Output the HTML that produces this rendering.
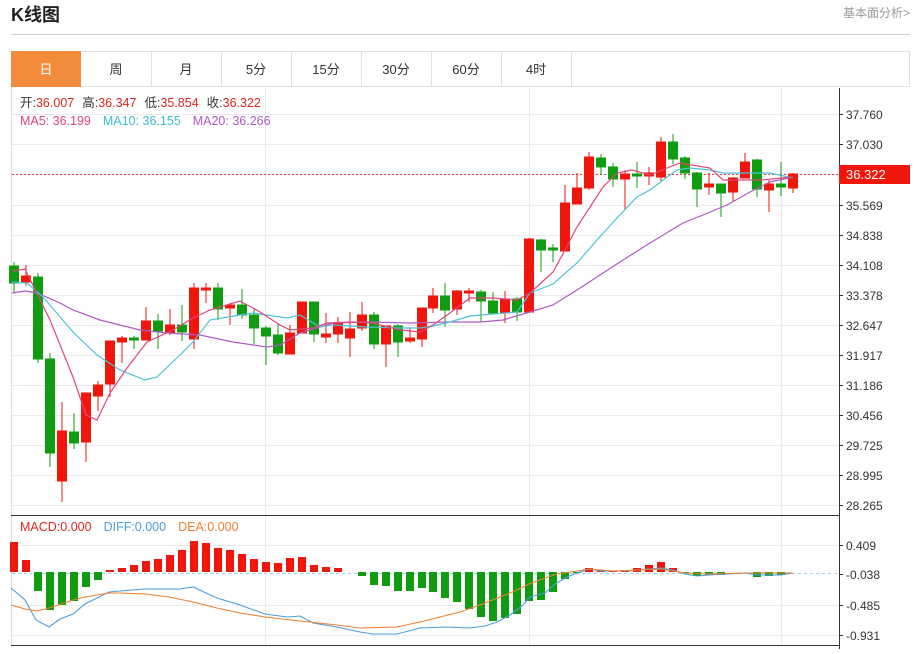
<!DOCTYPE html>
<html><head><meta charset="utf-8"><style>
body{margin:0;background:#fff;width:915px;height:649px;overflow:hidden;font-family:"Liberation Sans","Noto Sans CJK SC",sans-serif}
</style></head><body>
<svg width="915" height="649" xmlns="http://www.w3.org/2000/svg" font-family="Liberation Sans, Noto Sans CJK SC, sans-serif">
<text x="11" y="21" font-size="18" font-weight="bold" fill="#222">K线图</text>
<text x="910" y="17" font-size="12" fill="#999" text-anchor="end">基本面分析&gt;</text>
<line x1="11" y1="34.5" x2="910" y2="34.5" stroke="#d0d0d0"/>
<!-- tabs -->
<rect x="11.5" y="51.5" width="898" height="35" fill="#fff" stroke="#e0e0e0"/>
<rect x="11" y="51" width="70" height="36" fill="#f28b3c"/>
<g stroke="#e0e0e0"><line x1="151.5" y1="52" x2="151.5" y2="86"/><line x1="221.5" y1="52" x2="221.5" y2="86"/><line x1="291.5" y1="52" x2="291.5" y2="86"/><line x1="361.5" y1="52" x2="361.5" y2="86"/><line x1="431.5" y1="52" x2="431.5" y2="86"/><line x1="501.5" y1="52" x2="501.5" y2="86"/><line x1="571.5" y1="52" x2="571.5" y2="86"/></g>
<g font-size="13" text-anchor="middle" fill="#333">
<text x="46" y="74" fill="#fff">日</text><text x="116" y="74">周</text><text x="186" y="74">月</text><text x="256" y="74">5分</text><text x="326" y="74">15分</text><text x="396" y="74">30分</text><text x="466" y="74">60分</text><text x="536" y="74">4时</text></g>
<!-- chart frame -->
<line x1="11.5" y1="87" x2="11.5" y2="646" stroke="#ddd"/>
<g stroke="#ebebeb">
<line x1="12" y1="114.5" x2="839" y2="114.5"/><line x1="12" y1="144.5" x2="839" y2="144.5"/><line x1="12" y1="174.5" x2="839" y2="174.5"/><line x1="12" y1="205.5" x2="839" y2="205.5"/><line x1="12" y1="235.5" x2="839" y2="235.5"/><line x1="12" y1="265.5" x2="839" y2="265.5"/><line x1="12" y1="295.5" x2="839" y2="295.5"/><line x1="12" y1="325.5" x2="839" y2="325.5"/><line x1="12" y1="355.5" x2="839" y2="355.5"/><line x1="12" y1="385.5" x2="839" y2="385.5"/><line x1="12" y1="415.5" x2="839" y2="415.5"/><line x1="12" y1="445.5" x2="839" y2="445.5"/><line x1="12" y1="475.5" x2="839" y2="475.5"/><line x1="12" y1="505.5" x2="839" y2="505.5"/>
<line x1="12" y1="545.5" x2="839" y2="545.5"/><line x1="12" y1="605.5" x2="839" y2="605.5"/><line x1="12" y1="635.5" x2="839" y2="635.5"/>
<line x1="265.5" y1="88" x2="265.5" y2="645"/><line x1="529.5" y1="88" x2="529.5" y2="645"/><line x1="781.5" y1="88" x2="781.5" y2="645"/>
</g>
<line x1="839.5" y1="88" x2="839.5" y2="649" stroke="#333"/>
<line x1="11" y1="515.5" x2="839" y2="515.5" stroke="#333"/>
<line x1="11" y1="645.5" x2="839" y2="645.5" stroke="#333"/>
<g stroke="#333"><line x1="839" y1="114.5" x2="843" y2="114.5"/><line x1="839" y1="144.5" x2="843" y2="144.5"/><line x1="839" y1="205.5" x2="843" y2="205.5"/><line x1="839" y1="235.5" x2="843" y2="235.5"/><line x1="839" y1="265.5" x2="843" y2="265.5"/><line x1="839" y1="295.5" x2="843" y2="295.5"/><line x1="839" y1="325.5" x2="843" y2="325.5"/><line x1="839" y1="355.5" x2="843" y2="355.5"/><line x1="839" y1="385.5" x2="843" y2="385.5"/><line x1="839" y1="415.5" x2="843" y2="415.5"/><line x1="839" y1="445.5" x2="843" y2="445.5"/><line x1="839" y1="475.5" x2="843" y2="475.5"/><line x1="839" y1="505.5" x2="843" y2="505.5"/><line x1="839" y1="545.5" x2="843" y2="545.5"/><line x1="839" y1="574.5" x2="843" y2="574.5"/><line x1="839" y1="605.5" x2="843" y2="605.5"/><line x1="839" y1="635.5" x2="843" y2="635.5"/></g>
<g font-size="12" fill="#333">
<text x="846" y="119">37.760</text><text x="846" y="149">37.030</text><text x="846" y="210">35.569</text><text x="846" y="240">34.838</text><text x="846" y="270">34.108</text><text x="846" y="300">33.378</text><text x="846" y="330">32.647</text><text x="846" y="360">31.917</text><text x="846" y="390">31.186</text><text x="846" y="420">30.456</text><text x="846" y="450">29.725</text><text x="846" y="480">28.995</text><text x="846" y="510">28.265</text>
<text x="846" y="550">0.409</text><text x="846" y="579">-0.038</text><text x="846" y="610">-0.485</text><text x="846" y="640">-0.931</text></g>
<!-- price line -->
<line x1="12" y1="174.5" x2="839" y2="174.5" stroke="#e84040" stroke-dasharray="2,2"/>
<rect x="839" y="165" width="71" height="19" fill="#f0160c"/>
<text x="846" y="179" font-size="13" fill="#fff">36.322</text>
<!-- info -->
<g font-size="12.5">
<text x="20" y="107"><tspan fill="#333">开:</tspan><tspan fill="#e0271f">36.007</tspan><tspan fill="#333" dx="8">高:</tspan><tspan fill="#e0271f">36.347</tspan><tspan fill="#333" dx="8">低:</tspan><tspan fill="#e0271f">35.854</tspan><tspan fill="#333" dx="8">收:</tspan><tspan fill="#e0271f">36.322</tspan></text>
<text x="20" y="125"><tspan fill="#e0457b">MA5: 36.199</tspan><tspan fill="#3cbfd0" dx="12">MA10: 36.155</tspan><tspan fill="#b059c4" dx="12">MA20: 36.266</tspan></text>
<text x="20" y="531"><tspan fill="#e0271f">MACD:0.000</tspan><tspan fill="#4a9de0" dx="12">DIFF:0.000</tspan><tspan fill="#f08030" dx="12">DEA:0.000</tspan></text>
</g>
<!-- candles -->
<g stroke-width="1">
<g stroke="#109c10" fill="#109c10"><line x1="14" y1="262" x2="14" y2="292"/><rect x="9.5" y="266" width="9" height="17"/></g>
<g stroke="#f0160c" fill="#f0160c"><line x1="26" y1="265" x2="26" y2="286"/><rect x="21.5" y="276" width="9" height="6"/></g>
<g stroke="#109c10" fill="#109c10"><line x1="38" y1="273" x2="38" y2="363"/><rect x="33.5" y="277" width="9" height="82"/></g>
<g stroke="#109c10" fill="#109c10"><line x1="50" y1="353" x2="50" y2="467"/><rect x="45.5" y="359" width="9" height="94"/></g>
<g stroke="#f0160c" fill="#f0160c"><line x1="62" y1="402" x2="62" y2="502"/><rect x="57.5" y="431" width="9" height="50"/></g>
<g stroke="#109c10" fill="#109c10"><line x1="74" y1="413" x2="74" y2="449"/><rect x="69.5" y="432" width="9" height="11"/></g>
<g stroke="#f0160c" fill="#f0160c"><line x1="86" y1="393" x2="86" y2="462"/><rect x="81.5" y="393" width="9" height="49"/></g>
<g stroke="#f0160c" fill="#f0160c"><line x1="98" y1="381" x2="98" y2="411"/><rect x="93.5" y="385" width="9" height="11"/></g>
<g stroke="#f0160c" fill="#f0160c"><line x1="110" y1="341" x2="110" y2="397"/><rect x="105.5" y="341" width="9" height="43"/></g>
<g stroke="#f0160c" fill="#f0160c"><line x1="122" y1="336" x2="122" y2="363"/><rect x="117.5" y="338" width="9" height="4"/></g>
<g stroke="#109c10" fill="#109c10"><line x1="134" y1="336" x2="134" y2="349"/><rect x="129.5" y="338" width="9" height="2"/></g>
<g stroke="#f0160c" fill="#f0160c"><line x1="146" y1="307" x2="146" y2="340"/><rect x="141.5" y="321" width="9" height="19"/></g>
<g stroke="#109c10" fill="#109c10"><line x1="158" y1="314" x2="158" y2="349"/><rect x="153.5" y="321" width="9" height="10"/></g>
<g stroke="#f0160c" fill="#f0160c"><line x1="170" y1="309" x2="170" y2="335"/><rect x="165.5" y="325" width="9" height="8"/></g>
<g stroke="#109c10" fill="#109c10"><line x1="182" y1="305" x2="182" y2="341"/><rect x="177.5" y="325" width="9" height="7"/></g>
<g stroke="#f0160c" fill="#f0160c"><line x1="194" y1="283" x2="194" y2="349"/><rect x="189.5" y="288" width="9" height="51"/></g>
<g stroke="#f0160c" fill="#f0160c"><line x1="206" y1="283" x2="206" y2="303"/><rect x="201.5" y="288" width="9" height="2"/></g>
<g stroke="#109c10" fill="#109c10"><line x1="218" y1="283" x2="218" y2="320"/><rect x="213.5" y="288" width="9" height="21"/></g>
<g stroke="#f0160c" fill="#f0160c"><line x1="230" y1="303" x2="230" y2="325"/><rect x="225.5" y="305" width="9" height="3"/></g>
<g stroke="#109c10" fill="#109c10"><line x1="242" y1="289" x2="242" y2="319"/><rect x="237.5" y="305" width="9" height="10"/></g>
<g stroke="#109c10" fill="#109c10"><line x1="254" y1="308" x2="254" y2="344"/><rect x="249.5" y="315" width="9" height="13"/></g>
<g stroke="#109c10" fill="#109c10"><line x1="266" y1="326" x2="266" y2="365"/><rect x="261.5" y="328" width="9" height="8"/></g>
<g stroke="#109c10" fill="#109c10"><line x1="278" y1="323" x2="278" y2="355"/><rect x="273.5" y="335" width="9" height="18"/></g>
<g stroke="#f0160c" fill="#f0160c"><line x1="290" y1="325" x2="290" y2="354"/><rect x="285.5" y="333" width="9" height="21"/></g>
<g stroke="#f0160c" fill="#f0160c"><line x1="302" y1="302" x2="302" y2="333"/><rect x="297.5" y="302" width="9" height="31"/></g>
<g stroke="#109c10" fill="#109c10"><line x1="314" y1="302" x2="314" y2="342"/><rect x="309.5" y="302" width="9" height="32"/></g>
<g stroke="#f0160c" fill="#f0160c"><line x1="326" y1="313" x2="326" y2="343"/><rect x="321.5" y="334" width="9" height="3"/></g>
<g stroke="#f0160c" fill="#f0160c"><line x1="338" y1="317" x2="338" y2="343"/><rect x="333.5" y="323" width="9" height="11"/></g>
<g stroke="#f0160c" fill="#f0160c"><line x1="350" y1="312" x2="350" y2="357"/><rect x="345.5" y="329" width="9" height="9"/></g>
<g stroke="#f0160c" fill="#f0160c"><line x1="362" y1="302" x2="362" y2="331"/><rect x="357.5" y="315" width="9" height="13"/></g>
<g stroke="#109c10" fill="#109c10"><line x1="374" y1="312" x2="374" y2="349"/><rect x="369.5" y="315" width="9" height="29"/></g>
<g stroke="#f0160c" fill="#f0160c"><line x1="386" y1="326" x2="386" y2="367"/><rect x="381.5" y="326" width="9" height="18"/></g>
<g stroke="#109c10" fill="#109c10"><line x1="398" y1="324" x2="398" y2="357"/><rect x="393.5" y="326" width="9" height="16"/></g>
<g stroke="#f0160c" fill="#f0160c"><line x1="410" y1="327" x2="410" y2="343"/><rect x="405.5" y="338" width="9" height="3"/></g>
<g stroke="#f0160c" fill="#f0160c"><line x1="422" y1="308" x2="422" y2="347"/><rect x="417.5" y="308" width="9" height="31"/></g>
<g stroke="#f0160c" fill="#f0160c"><line x1="433" y1="288" x2="433" y2="313"/><rect x="428.5" y="296" width="9" height="12"/></g>
<g stroke="#109c10" fill="#109c10"><line x1="445" y1="283" x2="445" y2="327"/><rect x="440.5" y="296" width="9" height="14"/></g>
<g stroke="#f0160c" fill="#f0160c"><line x1="457" y1="290" x2="457" y2="315"/><rect x="452.5" y="291" width="9" height="18"/></g>
<g stroke="#f0160c" fill="#f0160c"><line x1="469" y1="288" x2="469" y2="302"/><rect x="464.5" y="291" width="9" height="2"/></g>
<g stroke="#109c10" fill="#109c10"><line x1="481" y1="290" x2="481" y2="322"/><rect x="476.5" y="292" width="9" height="9"/></g>
<g stroke="#109c10" fill="#109c10"><line x1="493" y1="292" x2="493" y2="314"/><rect x="488.5" y="301" width="9" height="12"/></g>
<g stroke="#f0160c" fill="#f0160c"><line x1="505" y1="291" x2="505" y2="323"/><rect x="500.5" y="299" width="9" height="14"/></g>
<g stroke="#109c10" fill="#109c10"><line x1="517" y1="297" x2="517" y2="321"/><rect x="512.5" y="299" width="9" height="13"/></g>
<g stroke="#f0160c" fill="#f0160c"><line x1="529" y1="238" x2="529" y2="312"/><rect x="524.5" y="239" width="9" height="73"/></g>
<g stroke="#109c10" fill="#109c10"><line x1="541" y1="239" x2="541" y2="272"/><rect x="536.5" y="240" width="9" height="10"/></g>
<g stroke="#109c10" fill="#109c10"><line x1="553" y1="244" x2="553" y2="262"/><rect x="548.5" y="248" width="9" height="2"/></g>
<g stroke="#f0160c" fill="#f0160c"><line x1="565" y1="185" x2="565" y2="251"/><rect x="560.5" y="203" width="9" height="48"/></g>
<g stroke="#f0160c" fill="#f0160c"><line x1="577" y1="173" x2="577" y2="204"/><rect x="572.5" y="188" width="9" height="16"/></g>
<g stroke="#f0160c" fill="#f0160c"><line x1="589" y1="152" x2="589" y2="190"/><rect x="584.5" y="157" width="9" height="31"/></g>
<g stroke="#109c10" fill="#109c10"><line x1="601" y1="154" x2="601" y2="175"/><rect x="596.5" y="158" width="9" height="9"/></g>
<g stroke="#109c10" fill="#109c10"><line x1="613" y1="163" x2="613" y2="187"/><rect x="608.5" y="167" width="9" height="12"/></g>
<g stroke="#f0160c" fill="#f0160c"><line x1="625" y1="170" x2="625" y2="210"/><rect x="620.5" y="174" width="9" height="5"/></g>
<g stroke="#109c10" fill="#109c10"><line x1="637" y1="162" x2="637" y2="188"/><rect x="632.5" y="174" width="9" height="2"/></g>
<g stroke="#f0160c" fill="#f0160c"><line x1="649" y1="167" x2="649" y2="185"/><rect x="644.5" y="173" width="9" height="3"/></g>
<g stroke="#f0160c" fill="#f0160c"><line x1="661" y1="137" x2="661" y2="182"/><rect x="656.5" y="142" width="9" height="35"/></g>
<g stroke="#109c10" fill="#109c10"><line x1="673" y1="134" x2="673" y2="164"/><rect x="668.5" y="142" width="9" height="17"/></g>
<g stroke="#109c10" fill="#109c10"><line x1="685" y1="156" x2="685" y2="179"/><rect x="680.5" y="158" width="9" height="15"/></g>
<g stroke="#109c10" fill="#109c10"><line x1="697" y1="172" x2="697" y2="207"/><rect x="692.5" y="173" width="9" height="16"/></g>
<g stroke="#f0160c" fill="#f0160c"><line x1="709" y1="173" x2="709" y2="195"/><rect x="704.5" y="184" width="9" height="3"/></g>
<g stroke="#109c10" fill="#109c10"><line x1="721" y1="184" x2="721" y2="217"/><rect x="716.5" y="184" width="9" height="9"/></g>
<g stroke="#f0160c" fill="#f0160c"><line x1="733" y1="177" x2="733" y2="201"/><rect x="728.5" y="178" width="9" height="14"/></g>
<g stroke="#f0160c" fill="#f0160c"><line x1="745" y1="153" x2="745" y2="178"/><rect x="740.5" y="162" width="9" height="16"/></g>
<g stroke="#109c10" fill="#109c10"><line x1="757" y1="159" x2="757" y2="197"/><rect x="752.5" y="160" width="9" height="29"/></g>
<g stroke="#f0160c" fill="#f0160c"><line x1="769" y1="180" x2="769" y2="212"/><rect x="764.5" y="184" width="9" height="6"/></g>
<g stroke="#109c10" fill="#109c10"><line x1="781" y1="162" x2="781" y2="196"/><rect x="776.5" y="184" width="9" height="3"/></g>
<g stroke="#f0160c" fill="#f0160c"><line x1="793" y1="173" x2="793" y2="193"/><rect x="788.5" y="174" width="9" height="14"/></g>
</g>
<!-- MAs -->
<g fill="none" stroke-width="1.2">
<polyline stroke="#b059c4" points="12,293 25,291 37,293 60,303 73,310 100,320 140,330 167,333 200,335 233,342 267,347 280,345 300,333 320,327 333,323 367,322 410,323 450,322 480,322 503,320 530,312 553,305 577,290 600,275 623,260 650,243 683,223 703,215 727,205 750,192 770,182 793,177"/>
<polyline stroke="#4cc3d9" points="12,282 27,283 43,297 73,332 97,355 120,370 145,380 157,377 180,355 193,342 210,320 240,315 253,313 287,318 300,315 320,327 333,325 367,327 400,328 420,328 433,326 450,322 470,316 517,312 530,293 553,284 577,263 597,240 617,218 637,197 650,190 663,180 677,170 690,168 710,170 723,173 750,173 770,173 793,178"/>
<polyline stroke="#e0457b" points="12,271 25,269 50,320 73,377 86,415 97,420 110,393 127,368 147,342 173,330 193,318 210,310 240,301 260,312 280,325 290,330 313,328 327,323 353,322 373,323 400,330 420,332 433,325 450,313 470,298 493,298 517,300 530,293 553,272 565,250 577,227 590,207 603,187 617,173 632,170 650,175 667,168 680,163 710,168 723,180 737,180 760,180 793,177"/>
</g>
<!-- MACD -->
<line x1="12" y1="573.5" x2="839" y2="573.5" stroke="#9ccfe8" stroke-dasharray="3,3"/>
<g fill="#f0160c">
<rect x="10" y="542" width="8" height="30"/><rect x="22" y="560" width="8" height="12"/>
<rect x="106" y="570" width="8" height="2"/><rect x="118" y="568" width="8" height="4"/><rect x="130" y="565" width="8" height="7"/><rect x="142" y="561" width="8" height="11"/><rect x="154" y="559" width="8" height="13"/><rect x="166" y="555" width="8" height="17"/><rect x="178" y="550" width="8" height="22"/><rect x="190" y="541" width="8" height="31"/><rect x="202" y="543" width="8" height="29"/><rect x="214" y="548" width="8" height="24"/><rect x="226" y="550" width="8" height="22"/><rect x="238" y="554" width="8" height="18"/><rect x="250" y="559" width="8" height="13"/><rect x="262" y="562" width="8" height="10"/><rect x="274" y="563" width="8" height="9"/><rect x="286" y="558" width="8" height="14"/><rect x="298" y="557" width="8" height="15"/><rect x="310" y="565" width="8" height="7"/><rect x="322" y="567" width="8" height="5"/><rect x="334" y="568" width="8" height="4"/>
<rect x="585" y="568" width="8" height="4"/><rect x="597" y="571" width="8" height="1"/><rect x="609" y="571" width="8" height="1"/><rect x="621" y="570" width="8" height="2"/><rect x="633" y="568" width="8" height="4"/><rect x="645" y="565" width="8" height="7"/><rect x="657" y="562" width="8" height="10"/><rect x="669" y="568" width="8" height="4"/>
</g>
<g fill="#109c10">
<rect x="34" y="572" width="8" height="19"/><rect x="46" y="572" width="8" height="38"/><rect x="58" y="572" width="8" height="33"/><rect x="70" y="572" width="8" height="29"/><rect x="82" y="572" width="8" height="15"/><rect x="94" y="572" width="8" height="8"/>
<rect x="358" y="572" width="8" height="4"/><rect x="370" y="572" width="8" height="13"/><rect x="382" y="572" width="8" height="14"/><rect x="394" y="572" width="8" height="19"/><rect x="406" y="572" width="8" height="19"/><rect x="418" y="572" width="8" height="16"/><rect x="429" y="572" width="8" height="20"/><rect x="441" y="572" width="8" height="26"/><rect x="453" y="572" width="8" height="30"/><rect x="465" y="572" width="8" height="37"/><rect x="477" y="572" width="8" height="45"/><rect x="489" y="572" width="8" height="49"/><rect x="501" y="572" width="8" height="46"/><rect x="513" y="572" width="8" height="42"/><rect x="525" y="572" width="8" height="29"/><rect x="537" y="572" width="8" height="28"/><rect x="549" y="572" width="8" height="20"/><rect x="561" y="572" width="8" height="7"/><rect x="573" y="572" width="8" height="1"/>
<rect x="681" y="572" width="8" height="1"/><rect x="693" y="572" width="8" height="4"/><rect x="705" y="572" width="8" height="3"/><rect x="717" y="572" width="8" height="3"/><rect x="753" y="572" width="8" height="5"/><rect x="765" y="572" width="8" height="4"/><rect x="777" y="572" width="8" height="3"/>
</g>
<g fill="none" stroke-width="1.1">
<polyline stroke="#4a9de0" points="11,588 25,600 36,620 49,627 60,619 73,614 85,604 97,598 109,592 120,591 145,589 180,589 193,587 217,598 240,605 265,614 287,617 300,616 313,623 337,627 360,632 373,634 397,634 420,628 445,627 470,628 485,626 497,622 510,615 522,606 530,597 545,593 555,584 567,577 577,573 589,569 601,571 625,571 649,569 661,568 673,570 685,574 697,576 709,575 745,573 757,575 781,575 793,573"/>
<polyline stroke="#f08030" points="11,605 25,609 37,611 49,608 73,600 85,597 97,595 109,593 120,593 145,594 169,597 193,602 217,608 240,613 265,617 300,621 337,625 360,628 397,627 420,622 440,617 460,612 480,605 500,597 517,590 529,584 545,578 557,574 577,571 589,569 613,571 637,570 661,569 673,571 685,573 709,574 745,573 793,573"/>
</g>
</svg>
</body></html>
